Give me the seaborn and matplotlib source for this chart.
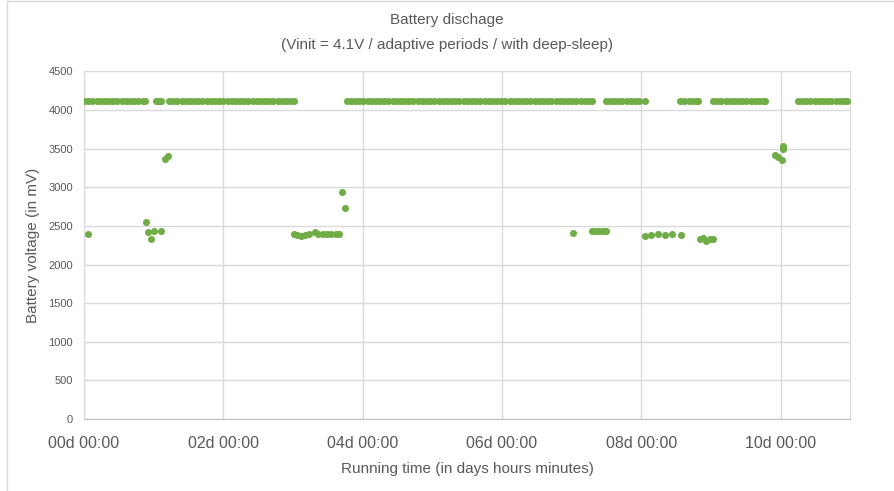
import matplotlib
matplotlib.use("Agg")
import pandas as pd
import matplotlib.pyplot as plt
import seaborn as sns
from matplotlib.ticker import FuncFormatter, MultipleLocator

# Running time in days for the "full" readings (flat line near 4.12 V)
top_days = [
    0.00, 0.06, 0.12, 0.18, 0.24, 0.30, 0.36, 0.42, 0.48, 0.54, 0.60, 0.66, 0.72, 0.78, 0.84, 0.87,
    1.03, 1.07, 1.10,
    1.22, 1.28, 1.34, 1.40, 1.46, 1.52, 1.58, 1.64, 1.70, 1.76, 1.82, 1.88, 1.94, 2.00, 2.06,
    2.12, 2.18, 2.24, 2.30, 2.36, 2.42, 2.48, 2.54, 2.60, 2.66, 2.72, 2.78, 2.84, 2.90, 2.96, 3.02,
    3.77, 3.83, 3.89, 3.95, 4.01, 4.07, 4.13, 4.19, 4.25, 4.31, 4.37, 4.43, 4.49, 4.55, 4.61,
    4.67, 4.73, 4.79, 4.85, 4.91, 4.97, 5.03, 5.09, 5.15, 5.21, 5.27, 5.33, 5.39, 5.45, 5.51,
    5.57, 5.63, 5.69, 5.75, 5.81, 5.87, 5.93, 5.99, 6.05, 6.11, 6.17, 6.23, 6.29, 6.35, 6.41,
    6.47, 6.53, 6.59, 6.65, 6.71, 6.77, 6.83, 6.89, 6.95, 7.01, 7.07, 7.13, 7.19, 7.25, 7.30,
    7.49, 7.55, 7.61, 7.67, 7.73, 7.79, 7.85, 7.91, 7.97, 8.05,
    8.56, 8.62, 8.68, 8.74, 8.80, 8.82,
    9.03, 9.09, 9.15, 9.21, 9.27, 9.33, 9.39, 9.45, 9.51, 9.57, 9.63, 9.69, 9.75, 9.77,
    10.25, 10.31, 10.37, 10.43, 10.49, 10.55, 10.61, 10.67, 10.73, 10.79, 10.85, 10.91, 10.96,
]
top_mv = 4120

# Readings taken while the battery sagged / recovered
low_days = [
    0.05,
    0.89, 0.92, 0.96, 1.01, 1.11, 1.16, 1.20,
    3.02, 3.06, 3.12, 3.17, 3.23, 3.31, 3.36, 3.43, 3.49, 3.55, 3.62, 3.66,
    3.71, 3.75,
    7.02,
    7.30, 7.35, 7.40, 7.45, 7.49,
    8.05, 8.14, 8.24, 8.34, 8.44, 8.57,
    8.84, 8.88, 8.93, 8.99, 9.03,
    9.92, 9.96, 10.02, 10.03, 10.03, 10.03,
]
low_mv = [
    2392,
    2548, 2422, 2328, 2439, 2439, 3364, 3411,
    2390, 2380, 2365, 2385, 2395, 2418, 2390, 2400, 2390, 2390, 2395, 2390,
    2940, 2737,
    2405,
    2430, 2440, 2435, 2440, 2430,
    2375, 2385, 2390, 2380, 2390, 2385,
    2330, 2340, 2300, 2330, 2325,
    3420, 3390, 3350, 3490, 3540, 3510,
]

df = pd.DataFrame({
    "days": top_days + low_days,
    "mv": [top_mv] * len(top_days) + low_mv,
})

sns.set_style("white")
plt.rcParams["font.family"] = ["Liberation Sans", "DejaVu Sans"]

fig = plt.figure(figsize=(8.94, 4.91), dpi=100)
ax = fig.add_axes([0.094, 0.1466, 0.857, 0.708])

sns.scatterplot(data=df, x="days", y="mv", ax=ax, color="#70AD47",
                s=26, linewidth=0, zorder=3, legend=False)

ax.set_xlim(0, 11)
ax.set_ylim(0, 4500)
ax.xaxis.set_major_locator(MultipleLocator(2))
ax.yaxis.set_major_locator(MultipleLocator(500))
ax.xaxis.set_major_formatter(FuncFormatter(lambda d, p: f"{int(round(d)):02d}d 00:00"))

ax.grid(True, color="#D9D9D9", linewidth=1)
for side in ["top", "right", "left"]:
    ax.spines[side].set_color("#D9D9D9")
ax.spines["bottom"].set_color("#BFBFBF")
ax.tick_params(axis="both", length=0, colors="#595959")
ax.tick_params(axis="x", labelsize=11.5, pad=12)
ax.tick_params(axis="y", labelsize=8, pad=8)

ax.set_xlabel("Running time (in days hours minutes)", fontsize=11, color="#595959", labelpad=8)
ax.set_ylabel("Battery voltage (in mV)", fontsize=11, color="#595959", labelpad=6)
fig.suptitle("Battery dischage\n(Vinit = 4.1V / adaptive periods / with deep-sleep)",
             fontsize=11, color="#595959", y=0.973, linespacing=2.0)

# outer chart border (left and top visible in the reference)
fig.add_artist(plt.Line2D([0.008, 0.008], [0, 0.998], color="#D9D9D9", lw=1, transform=fig.transFigure))
fig.add_artist(plt.Line2D([0.008, 1], [0.998, 0.998], color="#D9D9D9", lw=1, transform=fig.transFigure))

fig.savefig("out.png", dpi=100)
